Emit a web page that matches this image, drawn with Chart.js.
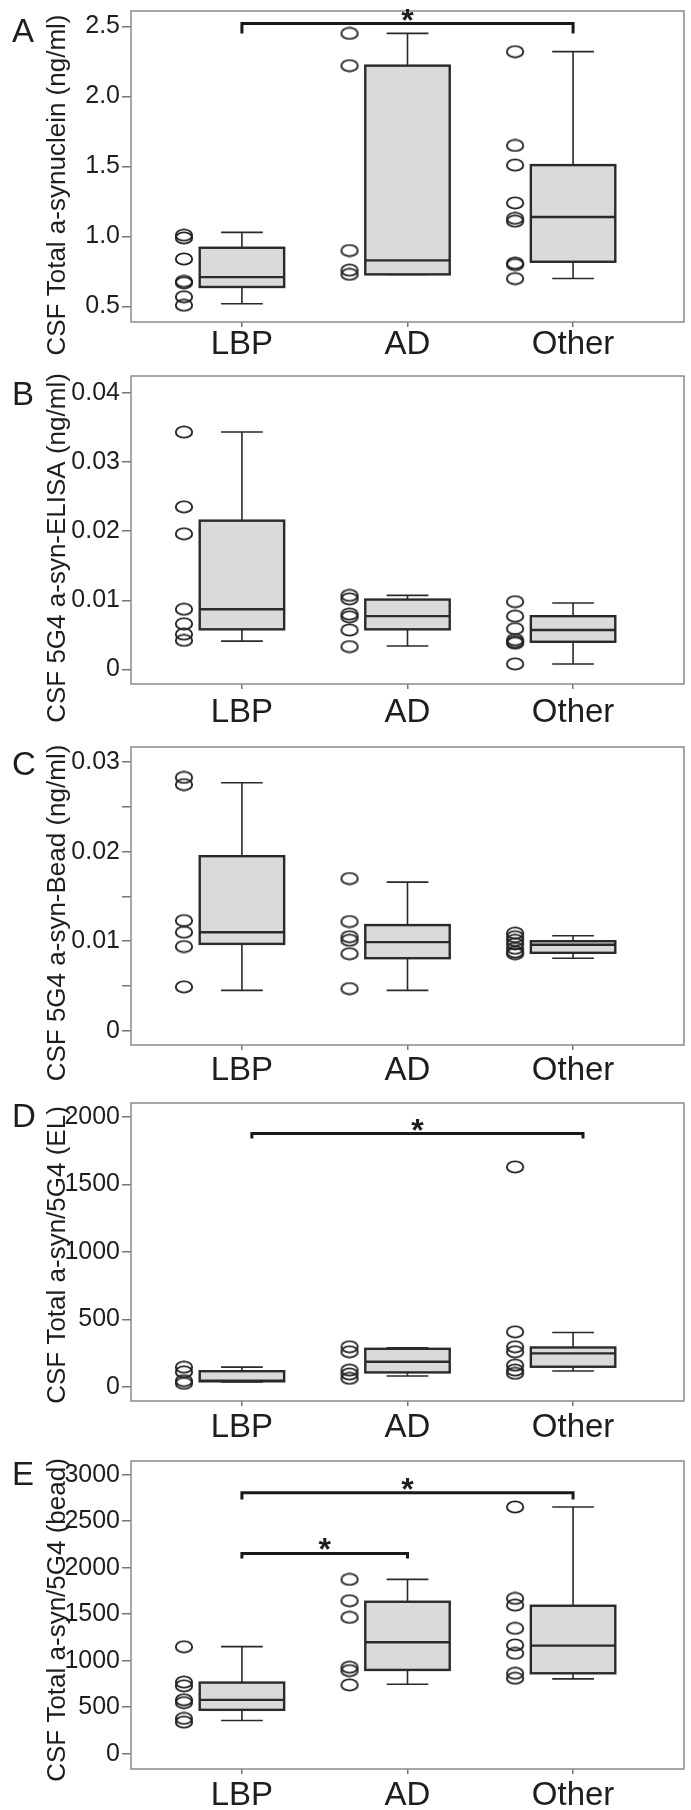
<!DOCTYPE html>
<html>
<head>
<meta charset="utf-8">
<script src="https://cdn.jsdelivr.net/npm/chart.js@4.4.1/dist/chart.umd.min.js"></script>
<style>
  body { margin: 0; background: #fff; }
  #wrap { position: relative; width: 691px; height: 1810px; overflow: hidden; }
  #wrap canvas { position: absolute; left: 0; }
</style>
</head>
<body>
<div id="wrap">
  <canvas id="panelA" width="691" height="375" style="top:0px"></canvas>
  <canvas id="panelB" width="691" height="375" style="top:360px"></canvas>
  <canvas id="panelC" width="691" height="375" style="top:720px"></canvas>
  <canvas id="panelD" width="691" height="375" style="top:1080px"></canvas>
  <canvas id="panelE" width="691" height="370" style="top:1440px"></canvas>
</div>
<script>
const groups = ['LBP', 'AD', 'Other'];

// A - total a-synuclein
const aPoints = [
  [1.01, 0.99, 0.84, 0.68, 0.67, 0.57, 0.51],
  [2.45, 2.22, 0.90, 0.76, 0.73],
  [2.32, 1.65, 1.51, 1.24, 1.13, 1.11, 0.81, 0.80, 0.70]
];
const aLow = [0.52, 0.73, 0.70];
const aQ1 = [0.64, 0.73, 0.82];
const aMed = [0.71, 0.83, 1.14];
const aQ3 = [0.92, 2.22, 1.51];
const aHigh = [1.03, 2.45, 2.32];
const aTicks = [0.5, 1.0, 1.5, 2.0, 2.5];
const aTickLabels = ['0.5', '1.0', '1.5', '2.0', '2.5'];
const aBrackets = [{ from: 1, to: 3, y: 2.52, drop: 2.45 }];

// B - 5G4 ELISA
const bPoints = [
  [0.0343, 0.0235, 0.0196, 0.0087, 0.0066, 0.0051, 0.0042],
  [0.0107, 0.0102, 0.0080, 0.0076, 0.0057, 0.0033],
  [0.0098, 0.0077, 0.0059, 0.0043, 0.0040, 0.0038, 0.0008]
];
const bLow = [0.0041, 0.0034, 0.0008];
const bQ1 = [0.0058, 0.0058, 0.0040];
const bMed = [0.0087, 0.0077, 0.0057];
const bQ3 = [0.0215, 0.0101, 0.0077];
const bHigh = [0.0343, 0.0107, 0.0096];
const bTicks = [0, 0.01, 0.02, 0.03, 0.04];
const bTickLabels = ['0', '0.01', '0.02', '0.03', '0.04'];
const bBrackets = [];

// C - 5G4 bead
const cPoints = [
  [0.0283, 0.0275, 0.0123, 0.0110, 0.0094, 0.0049],
  [0.0170, 0.0122, 0.0105, 0.0101, 0.0086, 0.0047],
  [0.0109, 0.0105, 0.0101, 0.0097, 0.0092, 0.0088, 0.0086]
];
const cLow = [0.0045, 0.0045, 0.0081];
const cQ1 = [0.0097, 0.0081, 0.0087];
const cMed = [0.0110, 0.0099, 0.0096];
const cQ3 = [0.0195, 0.0118, 0.0100];
const cHigh = [0.0277, 0.0166, 0.0106];
const cTicks = [0, 0.005, 0.01, 0.015, 0.02, 0.025, 0.03];
const cTickLabels = ['0', '', '0.01', '', '0.02', '', '0.03'];
const cBrackets = [];

// D - total / 5G4 (EL)
const dPoints = [
  [145, 110, 45, 25],
  [296, 259, 123, 94, 62],
  [1630, 407, 296, 259, 160, 123, 99]
];
const dLow = [35, 79, 116];
const dQ1 = [40, 106, 148];
const dMed = [45, 185, 247];
const dQ3 = [115, 281, 291];
const dHigh = [145, 289, 402];
const dTicks = [0, 500, 1000, 1500, 2000];
const dTickLabels = ['0', '500', '1000', '1500', '2000'];
const dBrackets = [{ from: 1.06, to: 3.06, y: 1877, drop: 1840 }];

// E - total / 5G4 (bead)
const ePoints = [
  [1150, 770, 730, 580, 550, 380, 340],
  [1874, 1645, 1466, 930, 894, 740],
  [2653, 1670, 1598, 1348, 1169, 1080, 865, 812]
];
const eLow = [358, 747, 805];
const eQ1 = [472, 901, 865];
const eMed = [579, 1198, 1162];
const eQ3 = [765, 1634, 1591];
const eHigh = [1151, 1874, 2653];
const eTicks = [0, 500, 1000, 1500, 2000, 2500, 3000];
const eTickLabels = ['0', '500', '1000', '1500', '2000', '2500', '3000'];
const eBrackets = [
  { from: 1, to: 3, y: 2807, drop: 2732 },
  { from: 1, to: 2, y: 2153, drop: 2099 }
];

const FONT = '"Liberation Sans", Arial, Helvetica, sans-serif';
const INK = '#1e1e1e';

// open ellipse used as point marker
const ring = document.createElement('canvas');
ring.width = 20;
ring.height = 14;
(() => {
  const g = ring.getContext('2d');
  g.strokeStyle = '#222';
  g.lineWidth = 1.9;
  g.beginPath();
  g.ellipse(10, 7, 8.2, 5.6, 0, 0, Math.PI * 2);
  g.stroke();
})();

function makePanel(p) {
  const pts = [];
  p.points.forEach((vals, i) => vals.forEach(v => pts.push({ x: i + 1 - 0.35, y: v })));

  const deco = {
    id: 'deco',
    beforeDatasetsDraw(chart) {
      const { ctx, scales: { x, y } } = chart;
      ctx.save();
      ctx.strokeStyle = '#2a2a2a';
      p.q1.forEach((q1, i) => {
        const c = i + 1;
        const xc = x.getPixelForValue(c);
        const xl = x.getPixelForValue(c - 0.255);
        const xr = x.getPixelForValue(c + 0.255);
        const cl = x.getPixelForValue(c - 0.126);
        const cr = x.getPixelForValue(c + 0.126);
        const yLo = y.getPixelForValue(p.low[i]);
        const yHi = y.getPixelForValue(p.high[i]);
        const yQ1 = y.getPixelForValue(q1);
        const yQ3 = y.getPixelForValue(p.q3[i]);
        const yMed = y.getPixelForValue(p.med[i]);

        ctx.lineWidth = 1.6;
        ctx.beginPath();
        ctx.moveTo(xc, yQ3); ctx.lineTo(xc, yHi);
        ctx.moveTo(cl, yHi); ctx.lineTo(cr, yHi);
        ctx.moveTo(xc, yQ1); ctx.lineTo(xc, yLo);
        ctx.moveTo(cl, yLo); ctx.lineTo(cr, yLo);
        ctx.stroke();

        ctx.fillStyle = '#d9dadc';
        ctx.fillRect(xl, yQ3, xr - xl, yQ1 - yQ3);
        ctx.lineWidth = 2.4;
        ctx.strokeRect(xl, yQ3, xr - xl, yQ1 - yQ3);
        ctx.beginPath();
        ctx.moveTo(xl, yMed); ctx.lineTo(xr, yMed);
        ctx.stroke();
      });
      ctx.restore();
    },
    afterDraw(chart) {
      const { ctx, chartArea: a, scales: { x, y } } = chart;
      ctx.save();
      // frame
      ctx.strokeStyle = '#8a8a8a';
      ctx.lineWidth = 1.5;
      ctx.strokeRect(a.left, a.top, a.right - a.left, a.bottom - a.top);

      // significance brackets
      ctx.strokeStyle = '#1a1a1a';
      ctx.fillStyle = INK;
      ctx.lineWidth = 3;
      ctx.font = 'bold 32px ' + FONT;
      ctx.textAlign = 'center';
      ctx.textBaseline = 'alphabetic';
      p.brackets.forEach(b => {
        const x1 = x.getPixelForValue(b.from);
        const x2 = x.getPixelForValue(b.to);
        const yl = y.getPixelForValue(b.y);
        const yd = y.getPixelForValue(b.drop);
        ctx.beginPath();
        ctx.moveTo(x1, yd); ctx.lineTo(x1, yl); ctx.lineTo(x2, yl); ctx.lineTo(x2, yd);
        ctx.stroke();
        ctx.fillText('*', (x1 + x2) / 2, yl + 7);
      });

      // panel letter
      ctx.textAlign = 'left';
      ctx.font = '33px ' + FONT;
      ctx.fillText(p.letter, 12, p.letterBase - p.top);

      // y axis title
      ctx.translate(65, p.titleCenter - p.top);
      ctx.rotate(-Math.PI / 2);
      ctx.textAlign = 'center';
      ctx.font = '26px ' + FONT;
      ctx.fillText(p.title, 0, 0);
      ctx.restore();
    }
  };

  return new Chart(document.getElementById(p.id), {
    type: 'scatter',
    data: {
      datasets: [{
        data: pts,
        pointStyle: ring,
        pointRadius: 6,
        borderColor: '#222',
        backgroundColor: 'rgba(0,0,0,0)'
      }]
    },
    options: {
      responsive: false,
      animation: false,
      events: [],
      layout: { padding: { top: p.frameTop - p.top, right: 2, left: 0, bottom: 0 } },
      plugins: { legend: { display: false }, tooltip: { enabled: false } },
      scales: {
        x: {
          type: 'linear',
          min: 0.33,
          max: 3.67,
          bounds: 'data',
          afterBuildTicks: s => { s.ticks = groups.map((g, i) => ({ value: i + 1 })); },
          afterFit: s => {
            s.height = p.top + p.height - p.frameBottom;
            s.paddingLeft = 0;
            s.paddingRight = 0;
          },
          ticks: {
            callback: (v, i) => groups[i],
            font: { size: 33, family: FONT },
            color: INK,
            padding: p.labelPad,
            maxRotation: 0,
            autoSkip: false
          },
          grid: { drawOnChartArea: false, tickLength: 5, tickColor: '#777', lineWidth: 1.5 },
          border: { display: false }
        },
        y: {
          min: p.yMin,
          max: p.yMax,
          bounds: 'data',
          afterBuildTicks: s => { s.ticks = p.ticks.map(v => ({ value: v })); },
          afterFit: s => {
            s.width = 131;
            s.paddingTop = 0;
            s.paddingBottom = 0;
          },
          ticks: {
            callback: (v, i) => p.tickLabels[i],
            font: { size: 25, family: FONT },
            color: INK,
            padding: 2,
            autoSkip: false
          },
          grid: { drawOnChartArea: false, tickLength: 9, tickColor: '#777', lineWidth: 1.5 },
          border: { display: false }
        }
      }
    },
    plugins: [deco]
  });
}

window.addEventListener('load', () => {
  makePanel({
    id: 'panelA', letter: 'A', title: 'CSF Total a-synuclein (ng/ml)',
    top: 0, height: 375, frameTop: 11, frameBottom: 322, titleCenter: 185, letterBase: 42, labelPad: -2,
    yMin: 0.39, yMax: 2.61, ticks: aTicks, tickLabels: aTickLabels,
    points: aPoints, low: aLow, q1: aQ1, med: aMed, q3: aQ3, high: aHigh, brackets: aBrackets
  });
  makePanel({
    id: 'panelB', letter: 'B', title: 'CSF 5G4 a-syn-ELISA (ng/ml)',
    top: 360, height: 375, frameTop: 376, frameBottom: 684, titleCenter: 548, letterBase: 405, labelPad: 4,
    yMin: -0.0021, yMax: 0.0424, ticks: bTicks, tickLabels: bTickLabels,
    points: bPoints, low: bLow, q1: bQ1, med: bMed, q3: bQ3, high: bHigh, brackets: bBrackets
  });
  makePanel({
    id: 'panelC', letter: 'C', title: 'CSF 5G4 a-syn-Bead (ng/ml)',
    top: 720, height: 375, frameTop: 747, frameBottom: 1045, titleCenter: 913, letterBase: 775, labelPad: 1,
    yMin: -0.0016, yMax: 0.0317, ticks: cTicks, tickLabels: cTickLabels,
    points: cPoints, low: cLow, q1: cQ1, med: cMed, q3: cQ3, high: cHigh, brackets: cBrackets
  });
  makePanel({
    id: 'panelD', letter: 'D', title: 'CSF Total a-syn/5G4 (EL)',
    top: 1080, height: 375, frameTop: 1103, frameBottom: 1401, titleCenter: 1255, letterBase: 1127, labelPad: 2,
    yMin: -106, yMax: 2104, ticks: dTicks, tickLabels: dTickLabels,
    points: dPoints, low: dLow, q1: dQ1, med: dMed, q3: dQ3, high: dHigh, brackets: dBrackets
  });
  makePanel({
    id: 'panelE', letter: 'E', title: 'CSF Total a-syn/5G4 (bead)',
    top: 1440, height: 370, frameTop: 1461, frameBottom: 1769, titleCenter: 1620, letterBase: 1485, labelPad: 2,
    yMin: -164, yMax: 3147, ticks: eTicks, tickLabels: eTickLabels,
    points: ePoints, low: eLow, q1: eQ1, med: eMed, q3: eQ3, high: eHigh, brackets: eBrackets
  });
});
</script>
</body>
</html>
